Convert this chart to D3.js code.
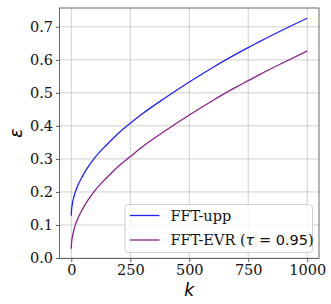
<!DOCTYPE html>
<html><head><meta charset="utf-8">
<script src="https://cdn.jsdelivr.net/npm/d3@7"></script>
<style>body{margin:0;background:#fff}svg{display:block}</style>
</head><body><div id="chart"></div>
<script>
const kValues = [0, 1, 2, 5, 10, 20, 50, 100, 150, 200, 250, 300, 400, 500, 600, 700, 750, 800, 900, 1000];
const fftUpp  = [0.128, 0.146, 0.152, 0.167, 0.183, 0.206, 0.251, 0.304, 0.343, 0.378, 0.408, 0.436, 0.486, 0.533, 0.577, 0.618, 0.637, 0.656, 0.692, 0.726];
const fftEvr  = [0.028, 0.046, 0.052, 0.066, 0.083, 0.106, 0.151, 0.204, 0.243, 0.278, 0.307, 0.336, 0.386, 0.433, 0.477, 0.518, 0.537, 0.556, 0.592, 0.627];
const xTicks = [0, 250, 500, 750, 1000];
const yTicks = [0.0, 0.1, 0.2, 0.3, 0.4, 0.5, 0.6, 0.7];
const seriesNames = ["FFT-upp", "FFT-EVR"];
const seriesColors = ["#2020ff", "#8b1f8b"];

const W = 331, H = 304;
const L = 59.5, R = 319, T = 8, B = 258.5;
const svg = d3.select("#chart").append("svg").attr("width", W).attr("height", H);
const x = d3.scaleLinear().domain([-50, 1050]).range([L, R]);
const y = d3.scaleLinear().domain([-0.0015, 0.757]).range([B, T]);

const serif = "'DejaVu Serif', serif";
const sans = "'DejaVu Sans', sans-serif";

// grid
const g = svg.append("g");
g.selectAll(".gx").data(xTicks).enter().append("line")
  .attr("x1", d => x(d)).attr("x2", d => x(d)).attr("y1", T).attr("y2", B)
  .attr("stroke", "#b0b0b0").attr("stroke-opacity", 0.6).attr("stroke-width", 1);
g.selectAll(".gy").data(yTicks).enter().append("line")
  .attr("y1", d => y(d)).attr("y2", d => y(d)).attr("x1", L).attr("x2", R)
  .attr("stroke", "#b0b0b0").attr("stroke-opacity", 0.6).attr("stroke-width", 1);

// axes
const xAxis = d3.axisBottom(x).tickValues(xTicks).tickSize(3.5).tickPadding(3).tickFormat(d3.format("d"));
const yAxis = d3.axisLeft(y).tickValues(yTicks).tickSize(3.5).tickPadding(3).tickFormat(d3.format(".1f"));
const gx = svg.append("g").attr("transform", `translate(0,${B})`).call(xAxis);
const gy = svg.append("g").attr("transform", `translate(${L},0)`).call(yAxis);
[gx, gy].forEach(a => {
  a.select(".domain").remove();
  a.selectAll(".tick line").attr("stroke", "#333").attr("stroke-width", 0.8);
  a.selectAll(".tick text").attr("font-family", serif).attr("font-size", 14.5).attr("fill", "#111");
});

// lines
const datasets = [fftUpp, fftEvr];
const line = d3.line().x(d => x(d[0])).y(d => y(d[1])).curve(d3.curveMonotoneX);
datasets.forEach((vals, i) => {
  svg.append("path").datum(kValues.map((k, j) => [k, vals[j]]))
    .attr("d", line).attr("fill", "none")
    .attr("stroke", seriesColors[i]).attr("stroke-width", 1.3);
});

// spines
svg.append("rect").attr("x", L).attr("y", T).attr("width", R - L).attr("height", B - T)
  .attr("fill", "none").attr("stroke", "#444").attr("stroke-width", 0.8);

// axis labels
svg.append("text").attr("x", (L + R) / 2).attr("y", 296).attr("text-anchor", "middle")
  .attr("font-family", sans).attr("font-style", "italic").attr("font-size", 17).text("k");
svg.append("text").attr("transform", `translate(22,${(T + B) / 2}) rotate(-90)`).attr("text-anchor", "middle")
  .attr("font-family", sans).attr("font-style", "italic").attr("font-size", 17).text("ε");

// legend
const lg = svg.append("g");
lg.append("rect").attr("x", 125).attr("y", 204.5).attr("width", 187.5).attr("height", 48)
  .attr("rx", 3).attr("fill", "#fff").attr("fill-opacity", 0.8)
  .attr("stroke", "#d0d0d0").attr("stroke-width", 1);
const rowsY = [215.5, 240];
rowsY.forEach((ry, i) => {
  lg.append("line").attr("x1", 130).attr("x2", 159.5).attr("y1", ry).attr("y2", ry)
    .attr("stroke", seriesColors[i]).attr("stroke-width", 1.3);
});
lg.append("text").attr("x", 170.5).attr("y", rowsY[0] + 5).attr("font-family", serif)
  .attr("font-size", 14.5).attr("fill", "#111").text(seriesNames[0]);
const t2 = lg.append("text").attr("x", 170.5).attr("y", rowsY[1] + 5).attr("font-family", serif)
  .attr("font-size", 14.5).attr("fill", "#111");
t2.append("tspan").text(seriesNames[1] + " (");
t2.append("tspan").attr("font-family", sans).attr("font-style", "italic").text("τ");
t2.append("tspan").attr("font-family", sans).text(" = 0.95");
t2.append("tspan").text(")");
</script></body></html>
